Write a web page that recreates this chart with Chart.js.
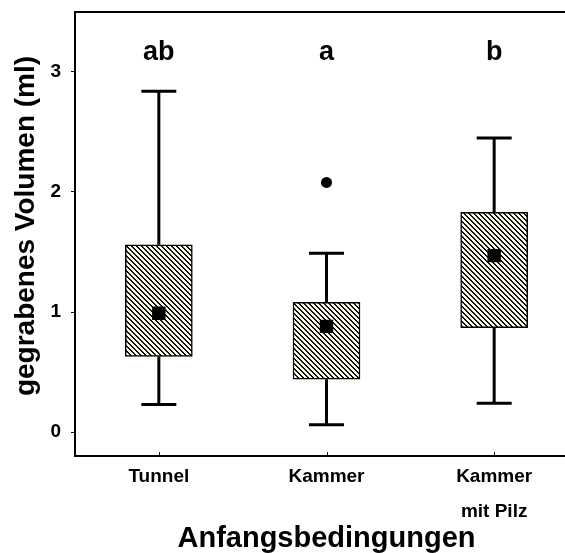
<!DOCTYPE html>
<html><head><meta charset="utf-8">
<script src="https://cdn.jsdelivr.net/npm/chart.js@4.4.0/dist/chart.umd.min.js"></script>
<style>html,body{margin:0;padding:0;background:#fff;overflow:hidden;width:565px;height:553px}canvas{display:block}</style>
</head><body>
<canvas id="c" width="578" height="553"></canvas>
<script>
// ---- data ----
const categories = ['Tunnel', 'Kammer', ['Kammer', 'mit Pilz']];
const whiskerLow  = [0.23, 0.06, 0.24];
const q1          = [0.63, 0.44, 0.87];
const q3          = [1.56, 1.08, 1.83];
const whiskerHigh = [2.84, 1.49, 2.45];
const means       = [0.99, 0.88, 1.47];
const outliers    = [null, 2.08, null];
const groupLetters = ['ab', 'a', 'b'];
const yTicks = [0, 1, 2, 3];
const xTitle = 'Anfangsbedingungen';
const yTitle = 'gegrabenes Volumen (ml)';

const FONT = "'Liberation Sans', Arial, Helvetica, sans-serif";
const canvas = document.getElementById('c');
const ctx = canvas.getContext('2d');

function hatch() {
  const n = 5;
  const c = document.createElement('canvas');
  c.width = n; c.height = n;
  const g = c.getContext('2d');
  g.fillStyle = '#fdfbea';
  g.fillRect(0, 0, n, n);
  g.fillStyle = '#111';
  for (let i = 0; i < n; i++) {
    g.fillRect(i, i, 1, 1);
    g.fillRect((i + 1) % n, i, 1, 1);
  }
  return ctx.createPattern(c, 'repeat');
}

const boxExtras = {
  id: 'boxExtras',
  beforeDatasetsDraw(chart) {
    const { ctx, scales: { x, y } } = chart;
    ctx.save();
    ctx.strokeStyle = '#000';
    ctx.lineWidth = 3;
    categories.forEach((c, i) => {
      const px = x.getPixelForValue(i);
      const yh = y.getPixelForValue(whiskerHigh[i]);
      const yl = y.getPixelForValue(whiskerLow[i]);
      ctx.beginPath();
      ctx.moveTo(px, y.getPixelForValue(q3[i])); ctx.lineTo(px, yh);
      ctx.moveTo(px, y.getPixelForValue(q1[i])); ctx.lineTo(px, yl);
      ctx.moveTo(px - 17.5, yh); ctx.lineTo(px + 17.5, yh);
      ctx.moveTo(px - 17.5, yl); ctx.lineTo(px + 17.5, yl);
      ctx.stroke();
    });
    ctx.restore();
  },
  afterDraw(chart) {
    const { ctx, chartArea: a, scales: { x, y } } = chart;
    ctx.save();
    ctx.strokeStyle = '#000';
    ctx.lineWidth = 2;
    ctx.beginPath();
    ctx.moveTo(a.left - 1, a.top); ctx.lineTo(a.right, a.top);
    ctx.stroke();
    ctx.lineWidth = 1;
    categories.forEach((c, i) => {
      const px = Math.round(x.getPixelForValue(i)) + 0.5;
      ctx.beginPath();
      ctx.moveTo(px, a.bottom); ctx.lineTo(px, a.bottom - 4);
      ctx.stroke();
    });
    ctx.fillStyle = '#000';
    ctx.font = 'bold 27px ' + FONT;
    ctx.textAlign = 'center';
    ctx.textBaseline = 'alphabetic';
    groupLetters.forEach((t, i) => {
      ctx.fillText(t, x.getPixelForValue(i), y.getPixelForValue(3.1));
    });
    // y axis title
    ctx.font = 'bold 28px ' + FONT;
    ctx.textBaseline = 'middle';
    ctx.translate(26, 226);
    ctx.rotate(-Math.PI / 2);
    ctx.fillText(yTitle, 0, 0);
    ctx.restore();
  }
};

new Chart(ctx, {
  type: 'bar',
  data: {
    labels: categories,
    datasets: [
      { type: 'bar', data: q1.map((v, i) => [v, q3[i]]), backgroundColor: hatch(),
        borderColor: '#000', borderWidth: 1.5, borderSkipped: false, barThickness: 67, order: 2 },
      { type: 'line', data: means, showLine: false, pointStyle: 'rect', pointRadius: 9.5,
        pointBackgroundColor: '#000', pointBorderWidth: 0, order: 1 },
      { type: 'line', data: outliers, showLine: false, pointStyle: 'circle', pointRadius: 5.5,
        pointBackgroundColor: '#000', pointBorderWidth: 0, order: 1 }
    ]
  },
  options: {
    responsive: false,
    animation: false,
    devicePixelRatio: 1,
    layout: { autoPadding: false, padding: { top: 12, left: 0, right: 0, bottom: 0 } },
    plugins: { legend: { display: false }, tooltip: { enabled: false } },
    scales: {
      x: {
        afterFit(s) { s.height = 97; s.paddingLeft = 0; s.paddingRight = 0; },
        border: { display: true, color: '#000', width: 2 },
        grid: { display: false, drawTicks: false },
        ticks: { color: '#000', padding: 3.5, maxRotation: 0, autoSkip: false,
                 font: { family: FONT, size: 19, weight: 'bold', lineHeight: 35 / 19 } },
        title: { display: true, text: xTitle, color: '#000',
                 font: { family: FONT, size: 29, weight: 'bold', lineHeight: 1 },
                 padding: { top: 0, bottom: 0 } }
      },
      y: {
        min: -0.2, max: 3.5,
        afterFit(s) { s.width = 75; s.paddingTop = 0; s.paddingBottom = 0; },
        afterBuildTicks(s) { s.ticks = yTicks.map(v => ({ value: v })); },
        border: { display: true, color: '#000', width: 2 },
        grid: { drawOnChartArea: false, drawTicks: true, tickLength: 4, color: '#000', lineWidth: 1 },
        ticks: { color: '#000', padding: 10, font: { family: FONT, size: 19, weight: 'bold' } }
      }
    }
  },
  plugins: [boxExtras]
});
</script>
</body></html>
